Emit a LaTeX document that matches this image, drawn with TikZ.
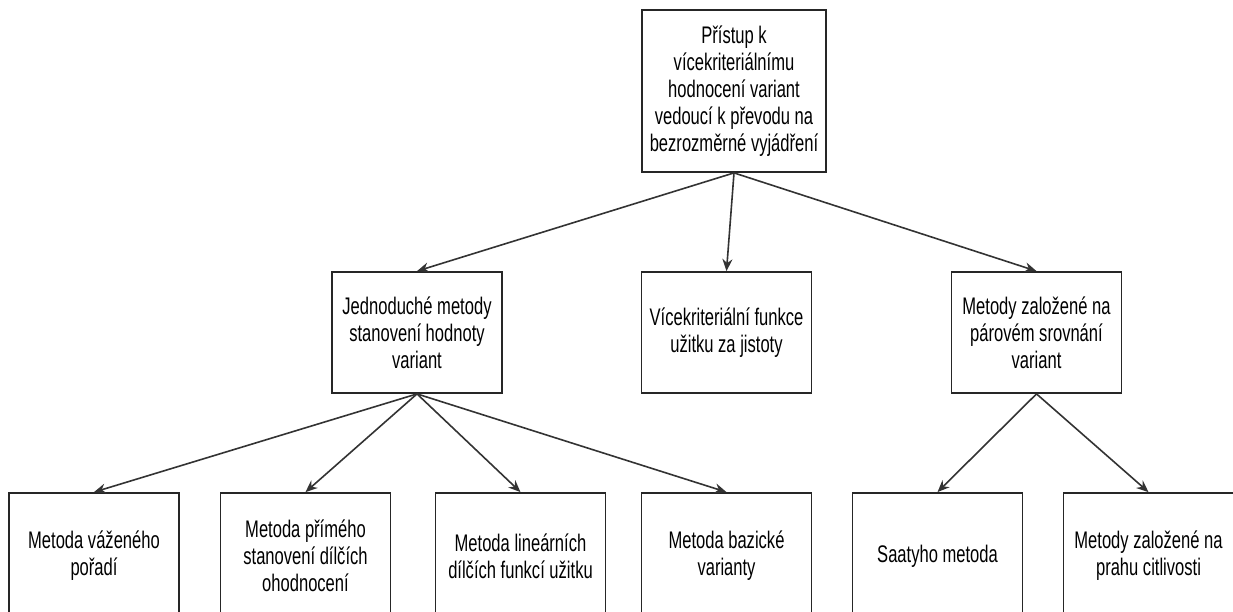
\documentclass[tikz,border=0pt]{standalone}
\usepackage{fontspec}
\setmainfont[FakeStretch=0.69]{Liberation Sans}
\usetikzlibrary{arrows.meta}
\begin{document}
\begin{tikzpicture}[x=1pt,y=-1pt,
  box/.style={draw=black!85, line width=1.8pt, fill=white, align=center,
    inner sep=2pt, font=\fontsize{24}{27}\selectfont},
  topbox/.style={box, minimum width=184pt, minimum height=162pt},
  midbox/.style={box, minimum width=170pt, minimum height=121pt},
  leafbox/.style={box, minimum width=170pt, minimum height=126pt},
  link/.style={draw=black!80, line width=1.6pt,
    -{Stealth[length=12pt,width=10pt]}}]
\useasboundingbox (0,0) rectangle (1233,612);

% root
\node[topbox] (root) at (734,91) {Přístup k\\vícekriteriálnímu\\hodnocení variant\\vedoucí k převodu na\\bezrozměrné vyjádření};

% second level
\node[midbox] (simple) at (417,332.5) {Jednoduché metody\\stanovení hodnoty\\variant};
\node[midbox] (utility) at (726.5,332.5) {Vícekriteriální funkce\\užitku za jistoty};
\node[midbox] (pair) at (1036.5,332.5) {Metody založené na\\párovém srovnání\\variant};

% leaves
\node[leafbox] (l1) at (94,556) {Metoda váženého\\pořadí};
\node[leafbox] (l2) at (305.5,556) {Metoda přímého\\stanovení dílčích\\ohodnocení};
\node[leafbox] (l3) at (520.5,556) {Metoda lineárních\\dílčích funkcí užitku};
\node[leafbox] (l4) at (726.5,556) {Metoda bazické\\varianty};
\node[leafbox] (l5) at (937.5,556) {Saatyho metoda};
\node[leafbox] (l6) at (1148.5,556) {Metody založené na\\prahu citlivosti};

% connectors
\foreach \t in {simple,utility,pair} \draw[link] (root.south) -- (\t.north);
\foreach \t in {l1,l2,l3,l4} \draw[link] (simple.south) -- (\t.north);
\foreach \t in {l5,l6} \draw[link] (pair.south) -- (\t.north);
\end{tikzpicture}
\end{document}
